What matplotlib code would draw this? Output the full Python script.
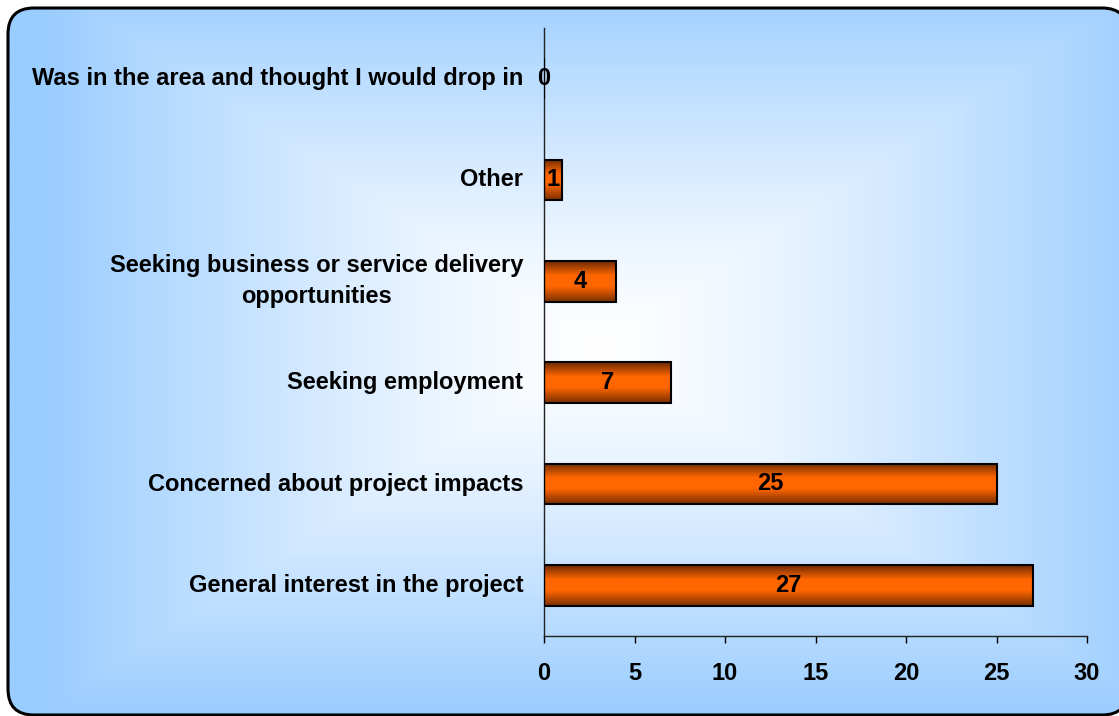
import numpy as np
import matplotlib
matplotlib.use('Agg')
import matplotlib.pyplot as plt
from matplotlib.colors import LinearSegmentedColormap
from matplotlib.patches import FancyBboxPatch

plt.rcParams['font.family'] = ['Liberation Sans', 'DejaVu Sans']
plt.rcParams['font.weight'] = 'bold'

# 数据 (从上到下)
categories = [
    "Was in the area and thought I would drop in",
    "Other",
    "Seeking business or service delivery\nopportunities",
    "Seeking employment",
    "Concerned about project impacts",
    "General interest in the project",
]
values = [0, 1, 4, 7, 25, 27]
xticks = [0, 5, 10, 15, 20, 25, 30]

W, H = 1119, 716
FS = 17
fig = plt.figure(figsize=(W / 100, H / 100), dpi=100)

# 背景：圆角框 + 渐变
bg = fig.add_axes([0, 0, 1, 1], zorder=0)
xx, yy = np.meshgrid(np.linspace(0, W, 400), np.linspace(0, H, 260))
cx, cy = 600, 370
t = np.maximum(np.abs(xx - cx) / 560, np.abs(yy - cy) / 370)
t = np.clip(t, 0, 1) ** 1.3
edge = np.array([153, 204, 255]) / 255
center = np.array([255, 255, 255]) / 255
img = center[None, None, :] * (1 - t[..., None]) + edge[None, None, :] * t[..., None]
im = bg.imshow(img, extent=[0, W, 0, H], origin='lower', aspect='auto')
bg.set_xlim(0, W)
bg.set_ylim(0, H)
bg.axis('off')
# 几乎透明的填充，避免 Agg 对曲线路径的裁剪伪影
box = FancyBboxPatch((8, 1), 1120, 707, boxstyle="round,pad=0,rounding_size=26",
                     facecolor=(1, 1, 1, 0.004), edgecolor='black', lw=2.2)
bg.add_patch(box)
im.set_clip_path(box)

# 主图
ax = fig.add_axes([544 / W, 80 / H, 543 / W, 608 / H], zorder=1)
ax.set_facecolor('none')

n = len(categories)
ypos = np.arange(n)[::-1]
bar_h = 0.4
bars = ax.barh(ypos, values, height=bar_h, color='none', edgecolor='black', lw=1.5, zorder=3)

cmap = LinearSegmentedColormap.from_list(
    'bar', [(0, '#6E2A00'), (0.35, '#FF6600'), (0.62, '#FF6600'), (1, '#7A3000')])
grad = np.linspace(0, 1, 100).reshape(-1, 1)
for b, v, y in zip(bars, values, ypos):
    if v > 0:
        g = ax.imshow(grad, cmap=cmap, aspect='auto', origin='upper',
                      extent=[0, v, y - bar_h / 2, y + bar_h / 2], zorder=2)
        g.set_clip_path(b)
    ax.text(v / 2, y, str(v), ha='center', va='center', fontsize=FS,
            fontweight='bold', zorder=4)

ax.set_xlim(0, 30)
ax.set_ylim(-0.5, n - 0.5)
ax.set_xticks(xticks)
ax.set_xticklabels([str(x) for x in xticks], fontsize=FS, fontweight='bold')
ax.set_yticks(ypos)
ax.set_yticklabels(categories, fontsize=FS, fontweight='bold',
                   multialignment='center', linespacing=1.45, va='center')
ax.tick_params(axis='y', length=0, pad=15)
ax.tick_params(axis='x', direction='out', length=5, width=1, pad=14)
for s in ['top', 'right']:
    ax.spines[s].set_visible(False)
for s in ['left', 'bottom']:
    ax.spines[s].set_color('#222222')
    ax.spines[s].set_linewidth(1)

fig.savefig('out.png', dpi=100)
